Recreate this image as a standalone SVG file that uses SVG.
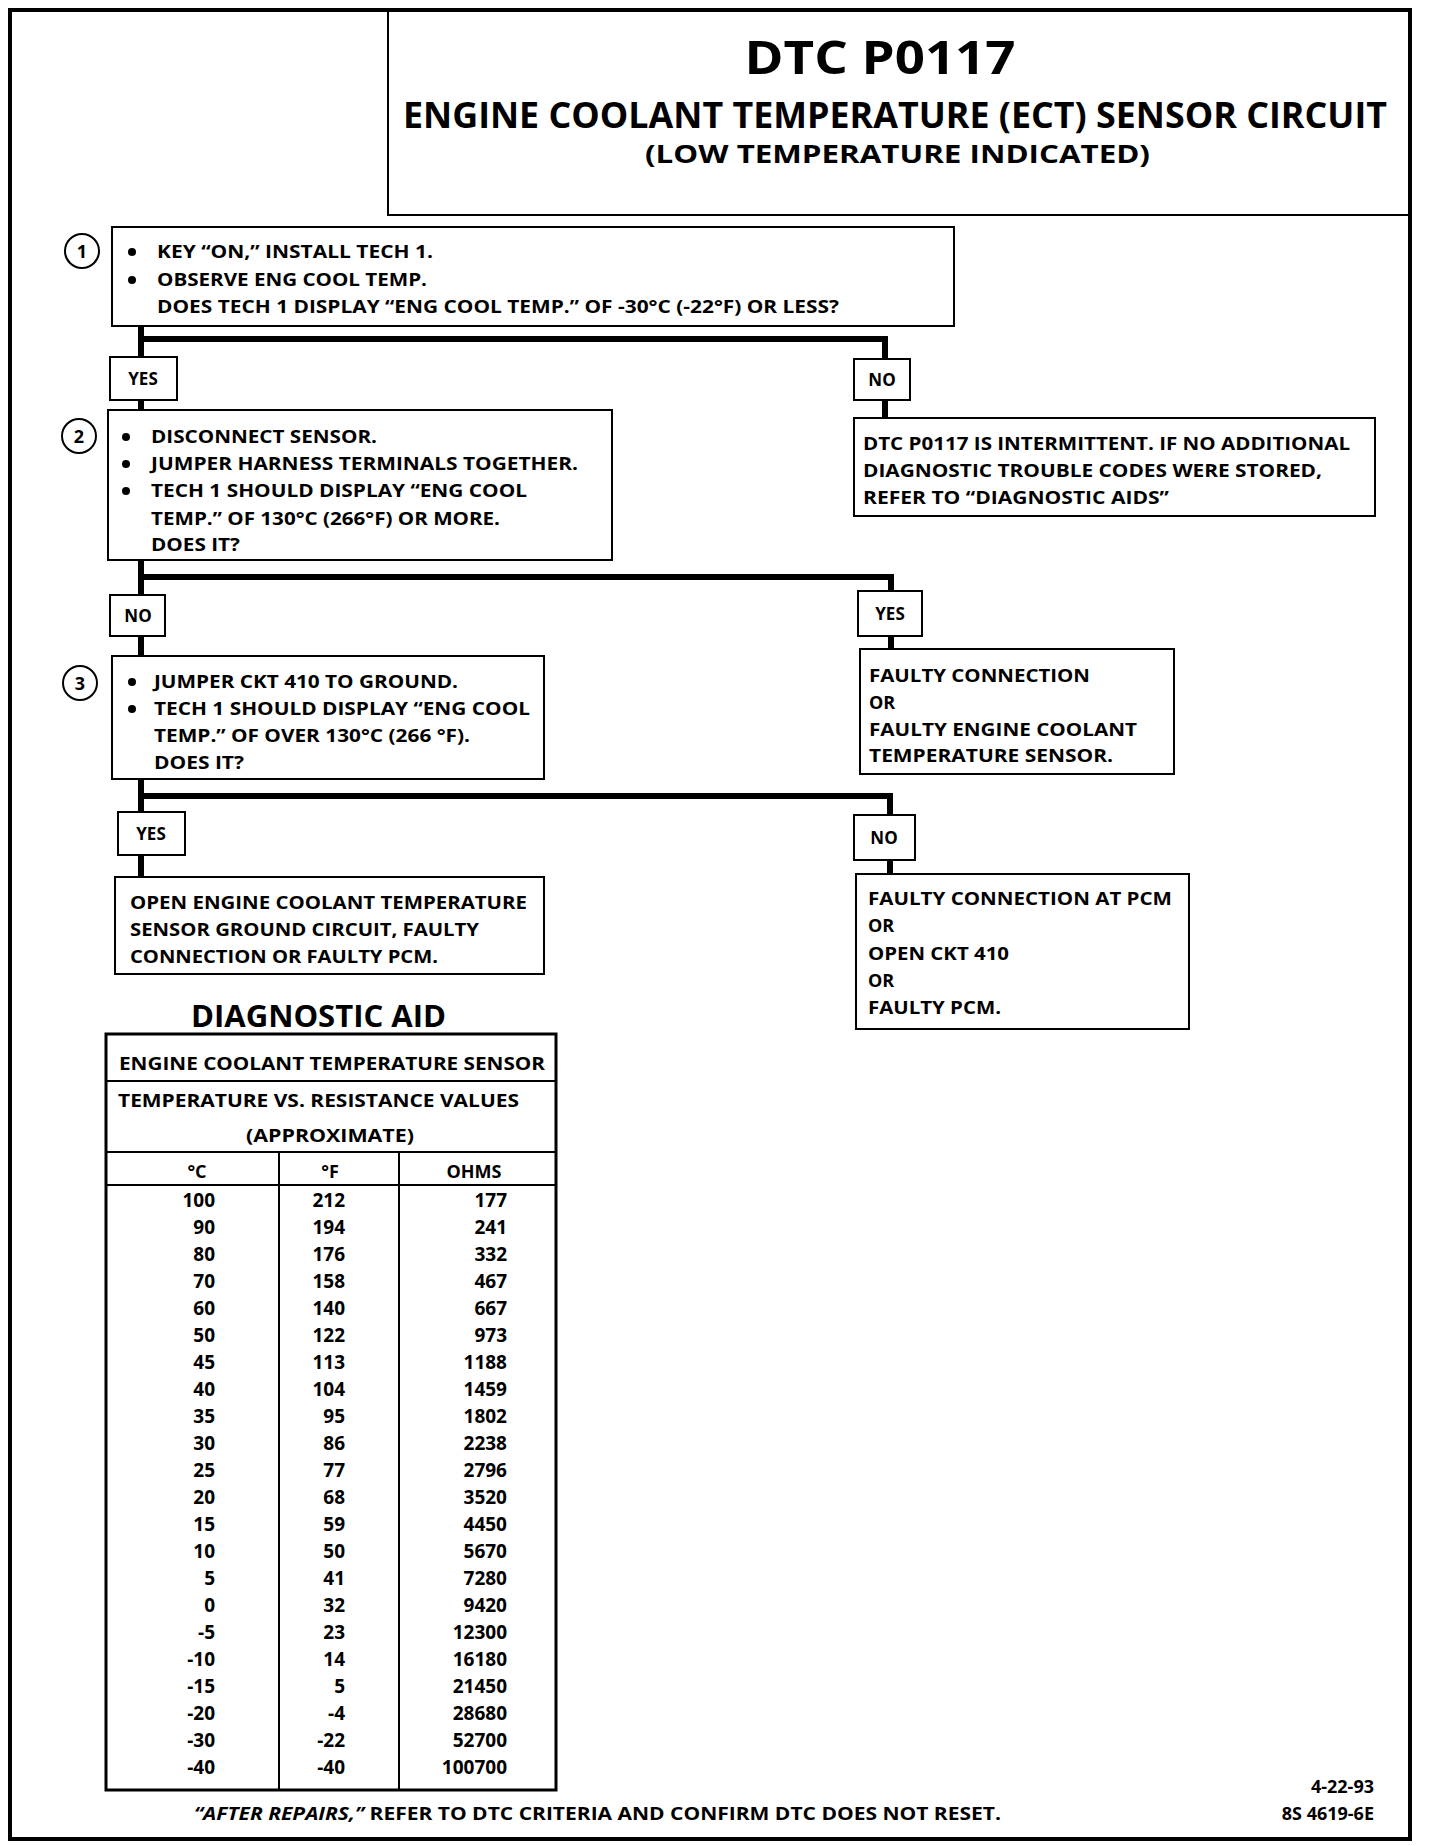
<svg xmlns="http://www.w3.org/2000/svg" width="1440" height="1846" viewBox="0 0 1440 1846">
<style>
text{font-family:"Open Sans","Liberation Sans",sans-serif;font-weight:bold;fill:#000}
.t{font-size:18px}
.lbl{font-size:17px;text-anchor:middle}
.box{fill:#fff;stroke:#000;stroke-width:2}
.conn{fill:none;stroke:#000;stroke-width:6;stroke-linejoin:miter}
.num{font-size:19px}
.r{text-anchor:end}
.c{text-anchor:middle}
.tl{fill:none;stroke:#000;stroke-width:2}
</style>
<rect x="0" y="0" width="1440" height="1846" fill="#fff"/>
<g id="frame">
<rect x="10" y="10" width="1400" height="1829" fill="none" stroke="#000" stroke-width="4"/>
</g>
<g id="title">
<path class="tl" d="M388 10 V215 H1410"/>
<text x="880" y="74" class="c" font-size="46" textLength="271" lengthAdjust="spacingAndGlyphs">DTC P0117</text>
<text x="403" y="128" font-size="35" textLength="984" lengthAdjust="spacingAndGlyphs">ENGINE COOLANT TEMPERATURE (ECT) SENSOR CIRCUIT</text>
<text x="645" y="163" font-size="25" textLength="505" lengthAdjust="spacingAndGlyphs">(LOW TEMPERATURE INDICATED)</text>
</g>
<g id="connectors">
<path class="conn" d="M141 326 V339 H885 V359"/>
<path class="conn" d="M141 339 V357"/>
<path class="conn" d="M141 400 V410"/>
<path class="conn" d="M885 400 V418"/>
<path class="conn" d="M141 560 V577 H891 V591"/>
<path class="conn" d="M141 577 V595"/>
<path class="conn" d="M141 636 V656"/>
<path class="conn" d="M891 636 V649"/>
<path class="conn" d="M141 779 V796 H890 V815"/>
<path class="conn" d="M141 796 V812"/>
<path class="conn" d="M141 855 V877"/>
<path class="conn" d="M890 860 V874"/>
</g>
<g id="step1">
<circle cx="82" cy="251" r="17" fill="#fff" stroke="#000" stroke-width="2"/>
<text x="82" y="258" class="c" font-size="18">1</text>
<rect class="box" x="112" y="227" width="842" height="99"/>
<circle cx="132" cy="252" r="4"/><circle cx="132" cy="280" r="4"/>
<text class="t" x="157" y="258" textLength="276" lengthAdjust="spacingAndGlyphs">KEY “ON,” INSTALL TECH 1.</text>
<text class="t" x="157" y="286" textLength="270" lengthAdjust="spacingAndGlyphs">OBSERVE ENG COOL TEMP.</text>
<text class="t" x="157" y="313" textLength="682" lengthAdjust="spacingAndGlyphs">DOES TECH 1 DISPLAY “ENG COOL TEMP.” OF -30°C (-22°F) OR LESS?</text>
</g>
<g id="yes1">
<rect class="box" x="110" y="357" width="67" height="43"/>
<text class="lbl" x="143" y="385">YES</text>
</g>
<g id="no1">
<rect class="box" x="854" y="359" width="56" height="41"/>
<text class="lbl" x="882" y="386">NO</text>
</g>
<g id="step2">
<circle cx="79" cy="436" r="17" fill="#fff" stroke="#000" stroke-width="2"/>
<text x="79" y="443" class="c" font-size="18">2</text>
<rect class="box" x="108" y="410" width="504" height="150"/>
<circle cx="126" cy="437" r="4"/><circle cx="126" cy="464" r="4"/><circle cx="126" cy="491" r="4"/>
<text class="t" x="151" y="443" textLength="226" lengthAdjust="spacingAndGlyphs">DISCONNECT SENSOR.</text>
<text class="t" x="151" y="470" textLength="427" lengthAdjust="spacingAndGlyphs">JUMPER HARNESS TERMINALS TOGETHER.</text>
<text class="t" x="151" y="497" textLength="376" lengthAdjust="spacingAndGlyphs">TECH 1 SHOULD DISPLAY “ENG COOL</text>
<text class="t" x="151" y="525" textLength="349" lengthAdjust="spacingAndGlyphs">TEMP.” OF 130°C (266°F) OR MORE.</text>
<text class="t" x="151" y="551" textLength="89" lengthAdjust="spacingAndGlyphs">DOES IT?</text>
</g>
<g id="intermittent">
<rect class="box" x="854" y="418" width="521" height="98"/>
<text class="t" x="863" y="450" textLength="487" lengthAdjust="spacingAndGlyphs">DTC P0117 IS INTERMITTENT.  IF NO ADDITIONAL</text>
<text class="t" x="863" y="477" textLength="459" lengthAdjust="spacingAndGlyphs">DIAGNOSTIC TROUBLE CODES WERE STORED,</text>
<text class="t" x="863" y="504" textLength="306" lengthAdjust="spacingAndGlyphs">REFER TO “DIAGNOSTIC AIDS”</text>
</g>
<g id="no2">
<rect class="box" x="110" y="595" width="55" height="41"/>
<text class="lbl" x="138" y="622">NO</text>
</g>
<g id="yes2">
<rect class="box" x="858" y="591" width="64" height="45"/>
<text class="lbl" x="890" y="620">YES</text>
</g>
<g id="step3">
<circle cx="80" cy="683" r="17" fill="#fff" stroke="#000" stroke-width="2"/>
<text x="80" y="690" class="c" font-size="18">3</text>
<rect class="box" x="112" y="656" width="432" height="123"/>
<circle cx="132" cy="682" r="4"/><circle cx="132" cy="709" r="4"/>
<text class="t" x="154" y="688" textLength="304" lengthAdjust="spacingAndGlyphs">JUMPER CKT 410 TO GROUND.</text>
<text class="t" x="154" y="715" textLength="376" lengthAdjust="spacingAndGlyphs">TECH 1 SHOULD DISPLAY “ENG COOL</text>
<text class="t" x="154" y="742" textLength="316" lengthAdjust="spacingAndGlyphs">TEMP.” OF OVER 130°C (266 °F).</text>
<text class="t" x="154" y="769" textLength="90" lengthAdjust="spacingAndGlyphs">DOES IT?</text>
</g>
<g id="faultysensor">
<rect class="box" x="860" y="649" width="314" height="125"/>
<text class="t" x="869" y="682" textLength="221" lengthAdjust="spacingAndGlyphs">FAULTY CONNECTION</text>
<text class="t" x="869" y="709">OR</text>
<text class="t" x="869" y="736" textLength="268" lengthAdjust="spacingAndGlyphs">FAULTY ENGINE COOLANT</text>
<text class="t" x="869" y="762" textLength="244" lengthAdjust="spacingAndGlyphs">TEMPERATURE SENSOR.</text>
</g>
<g id="yes3">
<rect class="box" x="118" y="812" width="67" height="43"/>
<text class="lbl" x="151" y="840">YES</text>
</g>
<g id="no3">
<rect class="box" x="854" y="815" width="61" height="45"/>
<text class="lbl" x="884" y="844">NO</text>
</g>
<g id="openground">
<rect class="box" x="115" y="877" width="429" height="97"/>
<text class="t" x="130" y="909" textLength="397" lengthAdjust="spacingAndGlyphs">OPEN ENGINE COOLANT TEMPERATURE</text>
<text class="t" x="130" y="936" textLength="349" lengthAdjust="spacingAndGlyphs">SENSOR GROUND CIRCUIT, FAULTY</text>
<text class="t" x="130" y="963" textLength="308" lengthAdjust="spacingAndGlyphs">CONNECTION OR FAULTY PCM.</text>
</g>
<g id="faultypcm">
<rect class="box" x="856" y="874" width="333" height="155"/>
<text class="t" x="868" y="905" textLength="304" lengthAdjust="spacingAndGlyphs">FAULTY CONNECTION AT PCM</text>
<text class="t" x="868" y="932">OR</text>
<text class="t" x="868" y="960" textLength="141" lengthAdjust="spacingAndGlyphs">OPEN CKT 410</text>
<text class="t" x="868" y="987">OR</text>
<text class="t" x="868" y="1014" textLength="133" lengthAdjust="spacingAndGlyphs">FAULTY PCM.</text>
</g>
<g id="diagnostic-aid">
<text x="191" y="1027" font-size="31" textLength="255" lengthAdjust="spacingAndGlyphs">DIAGNOSTIC AID</text>
<rect x="106" y="1034" width="450" height="756" fill="none" stroke="#000" stroke-width="3"/>
<line x1="106" y1="1081" x2="556" y2="1081" stroke="#000" stroke-width="2"/>
<line x1="106" y1="1152" x2="556" y2="1152" stroke="#000" stroke-width="2"/>
<line x1="106" y1="1185" x2="556" y2="1185" stroke="#000" stroke-width="2"/>
<line x1="279" y1="1152" x2="279" y2="1790" stroke="#000" stroke-width="2"/>
<line x1="399" y1="1152" x2="399" y2="1790" stroke="#000" stroke-width="2"/>
<text class="t" x="119" y="1070" textLength="426" lengthAdjust="spacingAndGlyphs">ENGINE COOLANT TEMPERATURE SENSOR</text>
<text class="t" x="118" y="1107" textLength="401" lengthAdjust="spacingAndGlyphs">TEMPERATURE VS. RESISTANCE VALUES</text>
<text class="t" x="246" y="1142" textLength="168" lengthAdjust="spacingAndGlyphs">(APPROXIMATE)</text>
<text class="t c" x="197" y="1178">°C</text>
<text class="t c" x="330" y="1178">°F</text>
<text class="t c" x="474" y="1178">OHMS</text>
<g class="num">
<text class="r" x="215" y="1207">100</text><text class="r" x="345" y="1207">212</text><text class="r" x="507" y="1207">177</text>
<text class="r" x="215" y="1234">90</text><text class="r" x="345" y="1234">194</text><text class="r" x="507" y="1234">241</text>
<text class="r" x="215" y="1261">80</text><text class="r" x="345" y="1261">176</text><text class="r" x="507" y="1261">332</text>
<text class="r" x="215" y="1288">70</text><text class="r" x="345" y="1288">158</text><text class="r" x="507" y="1288">467</text>
<text class="r" x="215" y="1315">60</text><text class="r" x="345" y="1315">140</text><text class="r" x="507" y="1315">667</text>
<text class="r" x="215" y="1342">50</text><text class="r" x="345" y="1342">122</text><text class="r" x="507" y="1342">973</text>
<text class="r" x="215" y="1369">45</text><text class="r" x="345" y="1369">113</text><text class="r" x="507" y="1369">1188</text>
<text class="r" x="215" y="1396">40</text><text class="r" x="345" y="1396">104</text><text class="r" x="507" y="1396">1459</text>
<text class="r" x="215" y="1423">35</text><text class="r" x="345" y="1423">95</text><text class="r" x="507" y="1423">1802</text>
<text class="r" x="215" y="1450">30</text><text class="r" x="345" y="1450">86</text><text class="r" x="507" y="1450">2238</text>
<text class="r" x="215" y="1477">25</text><text class="r" x="345" y="1477">77</text><text class="r" x="507" y="1477">2796</text>
<text class="r" x="215" y="1504">20</text><text class="r" x="345" y="1504">68</text><text class="r" x="507" y="1504">3520</text>
<text class="r" x="215" y="1531">15</text><text class="r" x="345" y="1531">59</text><text class="r" x="507" y="1531">4450</text>
<text class="r" x="215" y="1558">10</text><text class="r" x="345" y="1558">50</text><text class="r" x="507" y="1558">5670</text>
<text class="r" x="215" y="1585">5</text><text class="r" x="345" y="1585">41</text><text class="r" x="507" y="1585">7280</text>
<text class="r" x="215" y="1612">0</text><text class="r" x="345" y="1612">32</text><text class="r" x="507" y="1612">9420</text>
<text class="r" x="215" y="1639">-5</text><text class="r" x="345" y="1639">23</text><text class="r" x="507" y="1639">12300</text>
<text class="r" x="215" y="1666">-10</text><text class="r" x="345" y="1666">14</text><text class="r" x="507" y="1666">16180</text>
<text class="r" x="215" y="1693">-15</text><text class="r" x="345" y="1693">5</text><text class="r" x="507" y="1693">21450</text>
<text class="r" x="215" y="1720">-20</text><text class="r" x="345" y="1720">-4</text><text class="r" x="507" y="1720">28680</text>
<text class="r" x="215" y="1747">-30</text><text class="r" x="345" y="1747">-22</text><text class="r" x="507" y="1747">52700</text>
<text class="r" x="215" y="1774">-40</text><text class="r" x="345" y="1774">-40</text><text class="r" x="507" y="1774">100700</text>
</g>
</g>
<g id="footer">
<text class="t" x="194" y="1820" textLength="807" lengthAdjust="spacingAndGlyphs"><tspan font-style="italic">“AFTER REPAIRS,”</tspan> REFER TO DTC CRITERIA  AND CONFIRM DTC DOES NOT RESET.</text>
<text class="t r" x="1374" y="1793">4-22-93</text>
<text class="t r" x="1374" y="1820">8S 4619-6E</text>
</g>
</svg>
